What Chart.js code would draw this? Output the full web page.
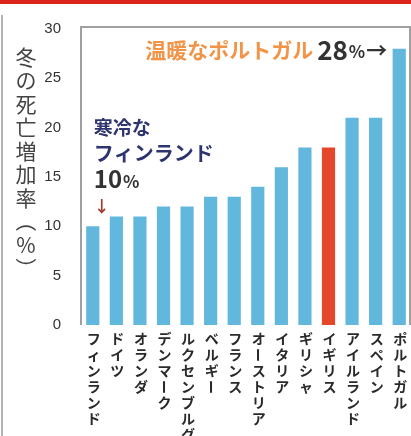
<!DOCTYPE html>
<html><head><meta charset="utf-8">
<script src="https://cdn.jsdelivr.net/npm/chart.js@4/dist/chart.umd.min.js"></script>
<style>html,body{margin:0;padding:0;background:#fff;overflow:hidden}</style>
</head><body>
<canvas id="c" width="411" height="436"></canvas>
<script>
// ---- data ----
const countries = ['フィンランド','ドイツ','オランダ','デンマーク','ルクセンブルグ','ベルギー','フランス','オーストリア','イタリア','ギリシャ','イギリス','アイルランド','スペイン','ポルトガル'];
const increase = [10,11,11,12,12,13,13,14,16,18,18,21,21,28];
const highlightCountry = 'イギリス';
const yTickValues = [0,5,10,15,20,25,30];
const yTitle = '冬の死亡増加率（%）';
const warmLabel = '温暖なポルトガル';
const coldLabel = ['寒冷な','フィンランド'];

const BLUE = '#62b7dd', RED = '#e5472b';
const JP = '"Noto Sans CJK JP", "Noto Sans", sans-serif';
const rotateSet = new Set(['ー','（','）','→']);

function drawVertical(ctx, text, cx, top, pitch, font, color) {
  ctx.save();
  ctx.font = font; ctx.fillStyle = color;
  ctx.textAlign = 'center'; ctx.textBaseline = 'middle';
  let y = top;
  for (const ch of text) {
    const cy = y + pitch / 2;
    if (rotateSet.has(ch)) {
      ctx.save(); ctx.translate(cx, cy); ctx.rotate(Math.PI / 2);
      ctx.fillText(ch, 0, 0); ctx.restore();
    } else {
      ctx.fillText(ch, cx, cy);
    }
    y += pitch;
  }
  ctx.restore();
}

const decor = {
  id: 'decor',
  beforeDraw(chart) {
    const ctx = chart.ctx;
    ctx.save();
    ctx.fillStyle = '#fff'; ctx.fillRect(0, 0, chart.width, chart.height);
    ctx.fillStyle = '#d9251c'; ctx.fillRect(0, 0, chart.width, 4);
    ctx.strokeStyle = '#9a9a9a'; ctx.lineWidth = 1.5;
    ctx.beginPath(); ctx.moveTo(2, 15); ctx.lineTo(2, chart.height); ctx.stroke();
    const a = chart.chartArea;
    ctx.strokeStyle = '#a0a0a0'; ctx.lineWidth = 2;
    ctx.beginPath();
    ctx.moveTo(a.left, a.bottom); ctx.lineTo(a.left, a.top - 2); ctx.lineTo(a.right - 1, a.top - 2); ctx.lineTo(a.right - 1, a.bottom);
    ctx.stroke();
    ctx.restore();
  },
  afterDraw(chart) {
    const ctx = chart.ctx;
    const xs = chart.scales.x, ys = chart.scales.y;
    countries.forEach((name, i) => {
      drawVertical(ctx, name, xs.getPixelForValue(i) + 1, ys.bottom + 6, 16, 'bold 14px ' + JP, '#2a2a2a');
    });
    drawVertical(ctx, yTitle, 26, 45, 23.5, '21px ' + JP, '#444');

    ctx.save();
    ctx.textBaseline = 'middle';
    // Portugal annotation
    const iP = countries.length - 1;
    const xP = xs.getPixelForValue(iP) - 12;
    const yP = ys.getPixelForValue(increase[iP]) + 1;
    ctx.textAlign = 'right';
    ctx.font = 'bold 21px ' + JP; ctx.fillStyle = '#333';
    ctx.fillText('→', xP, yP);
    let w = ctx.measureText('→').width + 1;
    ctx.font = 'bold 17px ' + JP;
    ctx.fillText('%', xP - w, yP + 2);
    w += ctx.measureText('%').width + 1;
    ctx.font = 'bold 26px ' + JP;
    ctx.fillText(String(increase[iP]), xP - w, yP);
    w += ctx.measureText(String(increase[iP])).width + 4;
    ctx.font = 'bold 21px ' + JP; ctx.fillStyle = '#f29447';
    ctx.fillText(warmLabel, xP - w, yP);

    // Finland annotation
    const x0 = xs.getPixelForValue(0) + 1;
    const y0 = ys.getPixelForValue(increase[0]);
    ctx.textAlign = 'left';
    ctx.fillStyle = '#2e3470';
    ctx.font = 'bold 19px ' + JP;
    ctx.fillText(coldLabel[0], x0, y0 - 99);
    ctx.font = 'bold 20px ' + JP;
    ctx.fillText(coldLabel[1], x0, y0 - 73);
    ctx.fillStyle = '#333';
    ctx.font = 'bold 24px ' + JP;
    ctx.fillText(String(increase[0]), x0, y0 - 47);
    const w0 = ctx.measureText(String(increase[0])).width;
    ctx.font = 'bold 17px ' + JP;
    ctx.fillText('%', x0 + w0 + 1, y0 - 45);
    ctx.fillStyle = '#a33a2e';
    ctx.font = 'bold 16px ' + JP;
    ctx.textAlign = 'center';
    ctx.fillText('↓', x0 + 8, y0 - 20);
    ctx.restore();
  }
};

new Chart(document.getElementById('c'), {
  type: 'bar',
  data: {
    labels: countries,
    datasets: [{
      data: increase,
      backgroundColor: countries.map(c => c === highlightCountry ? RED : BLUE),
      borderWidth: 0,
      barPercentage: 0.56,
      categoryPercentage: 1.0
    }]
  },
  options: {
    responsive: false,
    animation: false,
    devicePixelRatio: 1,
    layout: { padding: { top: 22, right: 0, left: 0, bottom: 0 } },
    plugins: { legend: { display: false }, tooltip: { enabled: false } },
    scales: {
      x: {
        grid: { display: false }, border: { display: false },
        ticks: { display: false },
        afterFit(s) { s.height = 111; }
      },
      y: {
        min: 0, max: 30,
        grid: { display: false, drawTicks: false }, border: { display: false },
        afterBuildTicks(s) { s.ticks = yTickValues.map(v => ({ value: v })); },
        ticks: { padding: 20, color: '#333', font: { size: 15, family: 'Liberation Sans, Arial, sans-serif' } },
        afterFit(s) { s.width = 81; }
      }
    }
  },
  plugins: [decor]
});
</script>
</body></html>
